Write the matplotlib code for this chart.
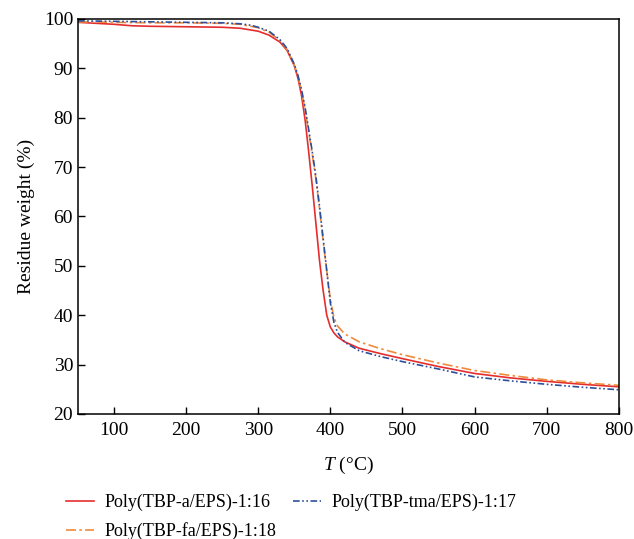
import matplotlib
matplotlib.use("Agg")
import matplotlib.pyplot as plt

plt.rcParams["font.family"] = "Liberation Serif"
plt.rcParams["mathtext.fontset"] = "custom"
plt.rcParams["mathtext.it"] = "Liberation Serif:italic"
plt.rcParams["mathtext.rm"] = "Liberation Serif"

# temperature (C) and residue weight (%)
t_a = [50, 75, 100, 125, 150, 200, 250, 275, 300, 315, 330, 340, 350, 355, 360, 365, 370,
       375, 380, 385, 390, 395, 400, 405, 410, 420, 440, 470, 500, 550, 600, 650, 700, 750, 800]
w_a = [99.3, 99.1, 98.9, 98.6, 98.5, 98.4, 98.3, 98.1, 97.5, 96.7, 95.3, 93.6, 90.5, 88.0, 84.5,
       79.5, 73.0, 66.0, 58.5, 51.0, 45.0, 40.0, 37.6, 36.4, 35.6, 34.6, 33.3, 32.2, 31.2, 29.6,
       28.2, 27.3, 26.6, 26.0, 25.5]

t_tma = [50, 100, 150, 200, 250, 275, 290, 300, 315, 330, 340, 350, 355, 360, 365, 370, 375,
         380, 385, 390, 395, 400, 405, 410, 420, 440, 470, 500, 550, 600, 650, 700, 750, 800]
w_tma = [99.6, 99.5, 99.4, 99.3, 99.2, 99.0, 98.7, 98.3, 97.5, 95.8, 94.0, 90.8, 88.6, 85.7,
         82.0, 77.5, 73.0, 68.0, 62.0, 55.5, 49.0, 42.5, 38.5, 36.5, 34.5, 32.8, 31.6, 30.6,
         29.1, 27.5, 26.7, 26.0, 25.4, 24.9]

t_fa = [50, 100, 150, 200, 250, 275, 300, 315, 330, 340, 350, 355, 360, 365, 370, 375, 380,
        385, 390, 395, 400, 405, 410, 420, 440, 470, 500, 550, 600, 650, 700, 750, 800]
w_fa = [99.4, 99.3, 99.2, 99.2, 99.1, 98.9, 98.2, 97.3, 95.6, 93.8, 90.6, 88.4, 85.4, 81.6,
        77.0, 72.5, 67.5, 61.5, 55.0, 49.0, 43.2, 39.5, 37.8, 36.2, 34.6, 33.2, 32.0, 30.3,
        28.8, 27.8, 26.9, 26.3, 25.8]

labels = ["Poly(TBP-a/EPS)-1:16", "Poly(TBP-fa/EPS)-1:18", "Poly(TBP-tma/EPS)-1:17"]

fig = plt.figure(figsize=(6.34, 5.39), dpi=100)
ax = fig.add_axes([0.123, 0.232, 0.853, 0.733])

l1, = ax.plot(t_a, w_a, color="#e52d2d", lw=1.2, label=labels[0])
l2, = ax.plot(t_fa, w_fa, color="#ef8a3c", lw=1.2, dashes=(6, 2, 1.5, 2), label=labels[1])
l3, = ax.plot(t_tma, w_tma, color="#2c4f9c", lw=1.2, dashes=(4, 1.5, 1, 1.5, 1, 1.5),
              label=labels[2])

ax.set_xlim(50, 800)
ax.set_ylim(20, 100)
ax.set_xticks(range(100, 801, 100))
ax.set_yticks(range(20, 101, 10))
ax.tick_params(direction="in", length=5, width=1, labelsize=14, top=False, right=False)
ax.tick_params(axis="x", pad=6)
for s in ax.spines.values():
    s.set_linewidth(1.1)

ax.set_xlabel(r"$\mathit{T}$ (°C)", fontsize=14, labelpad=11)
ax.set_ylabel("Residue weight (%)", fontsize=14, labelpad=6)

fig.legend(handles=[l1, l2, l3], loc="upper left", bbox_to_anchor=(0.09, 0.1),
           ncol=2, frameon=False, fontsize=13, handlelength=1.55, handletextpad=0.6,
           columnspacing=0.9, labelspacing=0.6, borderpad=0)

fig.savefig("out.png", dpi=100)
